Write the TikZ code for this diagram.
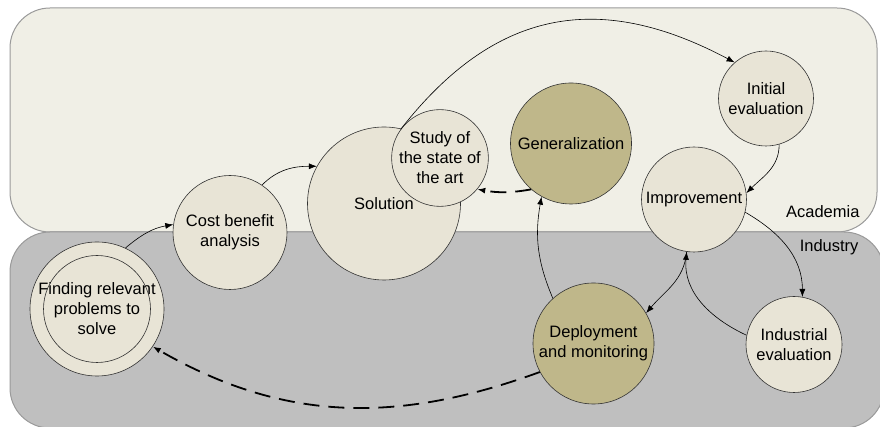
\documentclass[tikz,border=0pt]{standalone}
\usepackage{fontspec}
\setmainfont{Liberation Sans}
\usetikzlibrary{arrows.meta}
\definecolor{acadfill}{HTML}{F0EFE6}
\definecolor{indfill}{HTML}{BFBFBF}
\definecolor{regionline}{HTML}{9A9A9A}
\definecolor{phasefill}{HTML}{E8E4D6}
\definecolor{keyfill}{HTML}{BFB78A}
\definecolor{phaseline}{HTML}{333333}
\begin{document}
\begin{tikzpicture}[x=1pt,y=1pt,
        txt/.style={font=\fontsize{16.5}{20}\selectfont},
        phase/.style={txt,circle,draw=phaseline,fill=phasefill,line width=0.6pt,inner sep=0pt,align=center},
        keyphase/.style={phase,fill=keyfill},
        flow/.style={-{Latex[length=8pt,width=6pt]},line width=0.6pt},
        back/.style={flow,line width=1.8pt,dash pattern=on 16pt off 9pt},
        region/.style={draw=regionline,line width=1pt,rounded corners=40pt}]
        \useasboundingbox (0,0) rectangle (880,427);
        %% Regions
        \draw[region,fill=acadfill] (10,195) rectangle (877,419);
        \draw[region,fill=indfill] (10,-1) rectangle (884,195);
        \node[txt,anchor=east] (acad) at (863,215) {Academia};
        \node[txt,anchor=east] (ind) at (862,180) {Industry};
        %% Phases
        \node[phase,minimum size=134pt] (find) at (97,118) {};
        \draw[draw=phaseline,line width=0.6pt] (find) circle (53.5pt);
        \node[txt,align=center,inner sep=0pt] (findtxt) at (find) {Finding relevant\\problems to\\solve};
        \node[phase,minimum size=114pt] (cost) at (230,194.5) {Cost benefit\\analysis};
        \node[phase,minimum size=153pt] (sol) at (384,223.5) {Solution};
        \node[phase,minimum size=91pt] (study) at (440,269) {Study of\\the state of\\the art};
        \node[keyphase,minimum size=121pt] (gen) at (571,283.5) {Generalization};
        \node[phase,minimum size=95pt] (init) at (766,328.5) {Initial\\evaluation};
        \node[phase,minimum size=105pt] (impr) at (694,227.5) {Improvement};
        \node[phase,minimum size=96pt] (indev) at (794,82.5) {Industrial\\evaluation};
        \node[keyphase,minimum size=121pt] (deploy) at (593.5,83.5) {Deployment\\and monitoring};
        %% Flow
        \draw[flow] (find.65) to[out=40,in=190] (cost.172);
        \draw[flow] (cost.56) to[out=45,in=180] (sol.151);
        \draw[flow] (study.144) to[out=52,in=152,looseness=1.15] (init.131);
        \draw[flow] (init.-74) to[out=-90,in=45] (impr.7);
        \draw[flow] (impr.-14) to[out=-30,in=90] (indev.80);
        \draw[flow] (indev.169) to[out=155,in=-95] (impr.262);
        \draw[flow,{Latex[length=8pt,width=6pt]}-] (deploy.30) to[out=50,in=-95] (impr.262);
        \draw[flow] (deploy.132) to[out=113,in=-100] (gen.241);
        %% Feedback
        \draw[back] (gen.229) to[out=190,in=-10] (study.-40);
        \draw[back] (deploy.208) to[out=-160,in=-30] (find.-34);
    \end{tikzpicture}
\end{document}
